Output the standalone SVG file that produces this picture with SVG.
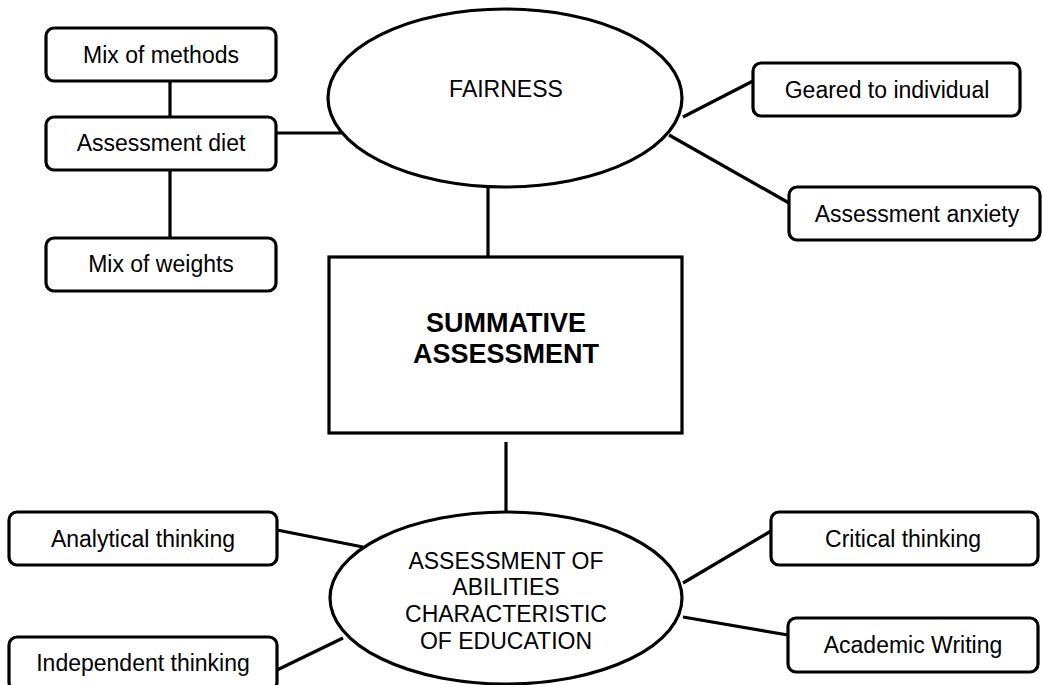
<svg xmlns="http://www.w3.org/2000/svg" width="1043" height="685" viewBox="0 0 1043 685">
<style>
.box{fill:#fff;stroke:#000;stroke-width:3.2}
.ell{fill:#fff;stroke:#000;stroke-width:3.2}
.ln{stroke:#000;stroke-width:3.2;fill:none}
text{font-family:"Liberation Sans",Arial,sans-serif;font-size:23px;fill:#000;text-anchor:middle}
.bold{font-weight:bold;font-size:27px}
</style>
<rect width="1043" height="685" fill="#fff"/>
<g id="connectors">
<line class="ln" x1="170" y1="81" x2="170" y2="117"/>
<line class="ln" x1="170" y1="170" x2="170" y2="238"/>
<line class="ln" x1="276" y1="133" x2="346" y2="133"/>
<line class="ln" x1="683" y1="117" x2="753" y2="81"/>
<line class="ln" x1="669" y1="135" x2="789" y2="203"/>
<line class="ln" x1="488" y1="187" x2="488" y2="257"/>
<line class="ln" x1="506" y1="442" x2="506" y2="512"/>
<line class="ln" x1="277" y1="530" x2="363" y2="547"/>
<line class="ln" x1="277" y1="670" x2="343" y2="638"/>
<line class="ln" x1="683" y1="583" x2="771" y2="531"/>
<line class="ln" x1="683" y1="617" x2="788" y2="635"/>
</g>
<g id="mix-methods"><rect class="box" x="46" y="28" width="230" height="53" rx="8"/><text x="161" y="63">Mix of methods</text></g>
<g id="assessment-diet"><rect class="box" x="46" y="117" width="230" height="53" rx="8"/><text x="161" y="151">Assessment diet</text></g>
<g id="mix-weights"><rect class="box" x="46" y="238" width="230" height="53" rx="8"/><text x="161" y="272">Mix of weights</text></g>
<g id="fairness"><ellipse class="ell" cx="505" cy="98" rx="177" ry="89"/><text x="506" y="97">FAIRNESS</text></g>
<g id="geared"><rect class="box" x="753" y="63" width="267" height="53" rx="8"/><text x="887" y="98">Geared to individual</text></g>
<g id="anxiety"><rect class="box" x="789" y="187" width="251" height="53" rx="8"/><text x="917" y="222">Assessment anxiety</text></g>
<g id="summative"><rect class="box" x="329" y="257" width="353" height="176"/><text class="bold" x="506" y="332">SUMMATIVE</text><text class="bold" x="506" y="363">ASSESSMENT</text></g>
<g id="abilities"><ellipse class="ell" cx="506" cy="598" rx="176" ry="86"/>
<text x="506" y="569">ASSESSMENT OF</text><text x="506" y="595">ABILITIES</text><text x="506" y="622">CHARACTERISTIC</text><text x="506" y="649">OF EDUCATION</text></g>
<g id="analytical"><rect class="box" x="9" y="512" width="268" height="53" rx="8"/><text x="143" y="547">Analytical thinking</text></g>
<g id="independent"><rect class="box" x="9" y="637" width="268" height="53" rx="8"/><text x="143" y="671">Independent thinking</text></g>
<g id="critical"><rect class="box" x="771" y="512" width="267" height="53" rx="8"/><text x="903" y="547">Critical thinking</text></g>
<g id="academic"><rect class="box" x="788" y="618" width="250" height="54" rx="8"/><text x="913" y="653">Academic Writing</text></g>
</svg>
